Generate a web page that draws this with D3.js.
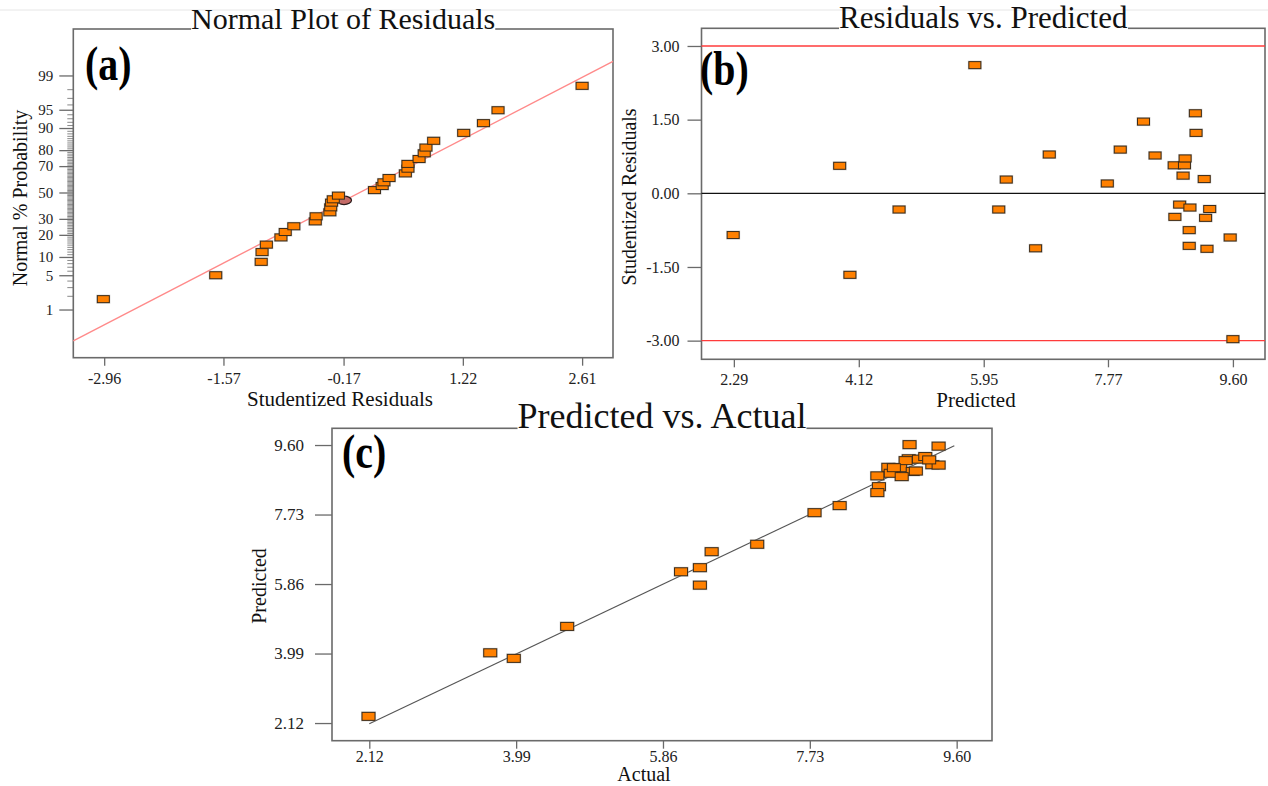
<!DOCTYPE html>
<html>
<head>
<meta charset="utf-8">
<script src="https://cdn.jsdelivr.net/npm/d3@7"></script>
<style>
  html, body { margin: 0; padding: 0; background: #fff; }
  svg { display: block; }
  text { font-family: "Liberation Serif", "Times New Roman", serif; }
</style>
</head>
<body>
<svg id="chart" width="1268" height="786"></svg>
<script>
// ---- panel (a): normal plot of residuals ----
const residualA = [-2.97, -1.66, -1.13, -1.12, -1.07, -0.90, -0.85, -0.75, -0.50, -0.49,
  -0.33, -0.32, -0.31, -0.29, -0.23, 0.19, 0.28, 0.30, 0.36, 0.55,
  0.58, 0.58, 0.71, 0.77, 0.79, 0.88, 1.23, 1.46, 1.63, 2.61];
const probA = [1.7, 5.0, 8.4, 11.8, 15.0, 18.6, 21.6, 25.1, 28.3, 31.8,
  34.7, 38.4, 42.0, 44.6, 47.5, 51.9, 55.1, 58.0, 61.3, 64.8,
  68.2, 71.5, 74.7, 78.2, 81.4, 84.8, 88.2, 91.6, 94.9, 98.3];
const highlightA = { x: -0.165, p: 43.8 };
const fitLineA = { x: [-3.32, 2.97], p: [0.16, 99.54] };
const xTicksA = [-2.96, -1.57, -0.17, 1.22, 2.61];
const yTicksA = [1, 5, 10, 20, 30, 50, 70, 80, 90, 95, 99];

// ---- panel (b): residuals vs predicted ----
const predictedB = [2.28, 3.84, 3.99, 4.71, 6.17, 6.28, 6.71, 6.91, 7.76, 7.95,
  8.29, 8.46, 8.74, 8.89, 8.90, 8.87, 9.05, 9.06, 9.18, 8.82,
  8.97, 8.75, 9.26, 9.20, 8.96, 8.96, 9.22, 9.56, 9.60, 5.82];
const residualB = [-0.85, 0.56, -1.66, -0.33, -0.33, 0.28, -1.12, 0.79, 0.20, 0.89,
  1.46, 0.77, 0.57, 0.57, 0.71, 0.36, 1.63, 1.23, 0.29, -0.23,
  -0.29, -0.48, -0.32, -0.50, -0.75, -1.07, -1.13, -0.90, -2.97, 2.61];
const limitsB = [3, -3];
const xTicksB = [2.29, 4.12, 5.95, 7.77, 9.60];
const yTicksB = [3, 1.5, 0, -1.5, -3];

// ---- panel (c): predicted vs actual ----
const actualC = [2.11, 3.66, 3.96, 4.64, 6.09, 6.33, 6.33, 6.48, 7.06, 7.79,
  8.11, 9.00, 9.37, 8.99, 9.12, 9.20, 9.29, 9.37, 8.73, 8.88,
  9.04, 8.76, 8.90, 8.59, 8.61, 8.59, 9.08, 8.95, 9.25, 8.80];
const predictedC = [2.30, 4.01, 3.86, 4.72, 6.19, 6.30, 5.83, 6.73, 6.93, 7.78,
  7.97, 9.61, 9.57, 9.23, 9.22, 9.29, 9.07, 9.06, 9.00, 8.99,
  8.89, 8.84, 8.75, 8.77, 8.48, 8.32, 8.90, 9.18, 9.20, 8.99];
const lineC = { actual: [2.12, 9.57], predicted: [2.10, 9.58] };
const ticksC = [2.12, 3.99, 5.86, 7.73, 9.60];

// inverse normal cdf (Acklam) for the probability axis
function probit(p) {
  const a = [-39.6968302866538, 220.946098424521, -275.928510446969, 138.357751867269, -30.6647980661472, 2.50662827745924];
  const b = [-54.4760987982241, 161.585836858041, -155.698979859887, 66.8013118877197, -13.2806815528857];
  const c = [-0.00778489400243029, -0.322396458041136, -2.40075827716184, -2.54973253934373, 4.37466414146497, 2.93816398269878];
  const d = [0.00778469570904146, 0.32246712907004, 2.445134137143, 3.75440866190742];
  const pl = 0.02425;
  let q, r;
  if (p < pl) {
    q = Math.sqrt(-2 * Math.log(p));
    return (((((c[0]*q+c[1])*q+c[2])*q+c[3])*q+c[4])*q+c[5]) / ((((d[0]*q+d[1])*q+d[2])*q+d[3])*q+1);
  }
  if (p > 1 - pl) {
    q = Math.sqrt(-2 * Math.log(1 - p));
    return -(((((c[0]*q+c[1])*q+c[2])*q+c[3])*q+c[4])*q+c[5]) / ((((d[0]*q+d[1])*q+d[2])*q+d[3])*q+1);
  }
  q = p - 0.5; r = q * q;
  return (((((a[0]*r+a[1])*r+a[2])*r+a[3])*r+a[4])*r+a[5])*q / (((((b[0]*r+b[1])*r+b[2])*r+b[3])*r+b[4])*r+1);
}

const fmt = d => d.toFixed(2);   // plain hyphen minus like the source
const svg = d3.select('#chart');
const frameColor = '#6a6a6a';
const serif = '"Liberation Serif", "Times New Roman", serif';

// faint separator from the source figure
svg.append('line').attr('x1', 0).attr('x2', 1268).attr('y1', 10).attr('y2', 10)
  .attr('stroke', '#e6e6e6').attr('stroke-width', 1);

function styleAxis(g, fontSize) {
  g.attr('font-family', null).attr('font-size', null);
  g.select('.domain').remove();
  g.selectAll('.tick line').attr('stroke', frameColor).attr('stroke-width', 1.3);
  g.selectAll('.tick text').attr('fill', '#222')
    .attr('font-family', serif).attr('font-size', fontSize)
    .style('font-size', fontSize + 'px').style('font-family', serif);
}

function frame(box, title, titleSize, titleBase) {
  svg.append('rect').attr('x', box.l).attr('y', box.t)
    .attr('width', box.r - box.l).attr('height', box.b - box.t)
    .attr('fill', 'none').attr('stroke', frameColor).attr('stroke-width', 1.6);
  const t = svg.append('text').attr('x', (box.l + box.r) / 2).attr('y', titleBase)
    .attr('text-anchor', 'middle').style('font-size', titleSize + 'px').attr('fill', '#111')
    .text(title);
  const bb = t.node().getBBox();
  svg.insert('rect', () => t.node()).attr('x', bb.x).attr('y', box.t - 3)
    .attr('width', bb.width).attr('height', 6).attr('fill', '#fff');
}

function panelLabel(txt, x, y) {
  svg.append('text').attr('transform', `translate(${x},${y}) scale(0.83,1)`)
    .style('font-size', '48px').style('font-weight', 'bold').attr('fill', '#000').text(txt);
}

function axisTitle(txt, x, y, size, rotate) {
  const t = svg.append('text').attr('text-anchor', 'middle').style('font-size', size + 'px').attr('fill', '#111').text(txt);
  if (rotate) t.attr('transform', `translate(${x},${y}) rotate(-90)`);
  else t.attr('x', x).attr('y', y);
}

function boxes(g, pts, xs, ys, w, h) {
  g.selectAll('rect.halo').data(pts).enter().append('rect').attr('class', 'halo')
    .attr('x', d => xs(d[0]) - w / 2 - 1).attr('y', d => ys(d[1]) - h / 2 - 1)
    .attr('width', w + 2).attr('height', h + 2).attr('fill', '#9a9a9a').attr('opacity', 0.45);
  g.selectAll('rect.pt').data(pts).enter().append('rect').attr('class', 'pt')
    .attr('x', d => xs(d[0]) - w / 2).attr('y', d => ys(d[1]) - h / 2)
    .attr('width', w).attr('height', h)
    .attr('fill', '#ff8000').attr('stroke', '#3a2a18').attr('stroke-width', 1);
}

// ================= panel (a) =================
const boxA = { l: 73.3, r: 613, t: 29, b: 357.7 };
const xA = d3.scaleLinear().domain([-3.32, 2.97]).range([boxA.l, boxA.r]);
const zA = d3.scaleLinear().domain([-3.284, 3.25]).range([boxA.b, boxA.t]);
const yA = p => zA(probit(p / 100));

const minorP = d3.range(1, 100).filter(p => !yTicksA.includes(p));
svg.append('g').attr('transform', `translate(${boxA.l},0)`)
  .call(d3.axisLeft(zA).tickValues(minorP.map(p => probit(p / 100))).tickSize(6).tickFormat(''))
  .call(g => styleAxis(g, 14)).call(g => g.selectAll('.tick line').attr('stroke-width', 0.8));
svg.append('g').attr('transform', `translate(${boxA.l},0)`)
  .call(d3.axisLeft(zA).tickValues(yTicksA.map(p => probit(p / 100))).tickSize(14).tickPadding(6)
    .tickFormat((d, i) => yTicksA[i]))
  .call(g => styleAxis(g, 15));
svg.append('g').attr('transform', `translate(0,${boxA.b})`)
  .call(d3.axisBottom(xA).tickValues(xTicksA).tickSize(8).tickPadding(7).tickFormat(fmt))
  .call(g => styleAxis(g, 16));

frame(boxA, 'Normal Plot of Residuals', 30, 29);

svg.append('line')
  .attr('x1', xA(fitLineA.x[0])).attr('y1', yA(fitLineA.p[0]))
  .attr('x2', xA(fitLineA.x[1])).attr('y2', yA(fitLineA.p[1]))
  .attr('stroke', '#ff8a8a').attr('stroke-width', 1.4);

svg.append('ellipse').attr('cx', xA(highlightA.x)).attr('cy', yA(highlightA.p))
  .attr('rx', 7.5).attr('ry', 4.2).attr('fill', '#c46a66').attr('stroke', '#2a1a1a').attr('stroke-width', 1.2);

boxes(svg.append('g'), residualA.map((r, i) => [r, probA[i]]), xA, yA, 12, 7);

panelLabel('(a)', 85, 80);
axisTitle('Studentized Residuals', 340, 406, 21, false);
axisTitle('Normal % Probability', 27, 198, 20, true);

// ================= panel (b) =================
const boxB = { l: 701.5, r: 1265, t: 28.3, b: 359.3 };
const xB = d3.scaleLinear().domain([1.816, 10.07]).range([boxB.l, boxB.r]);
const yB = d3.scaleLinear().domain([-3.38, 3.36]).range([boxB.b, boxB.t]);

svg.append('g').attr('transform', `translate(${boxB.l},0)`)
  .call(d3.axisLeft(yB).tickValues(yTicksB).tickSize(14).tickPadding(8).tickFormat(fmt))
  .call(g => styleAxis(g, 16));
svg.append('g').attr('transform', `translate(0,${boxB.b})`)
  .call(d3.axisBottom(xB).tickValues(xTicksB).tickSize(8).tickPadding(6).tickFormat(fmt))
  .call(g => styleAxis(g, 16));

frame(boxB, 'Residuals vs. Predicted', 31, 28.3);

svg.append('g').selectAll('line').data(limitsB).enter().append('line')
  .attr('x1', boxB.l).attr('x2', boxB.r).attr('y1', d => yB(d)).attr('y2', d => yB(d))
  .attr('stroke', '#ff3b3b').attr('stroke-width', 1.3);
svg.append('line').attr('x1', boxB.l).attr('x2', boxB.r).attr('y1', yB(0)).attr('y2', yB(0))
  .attr('stroke', '#111').attr('stroke-width', 1.3);

boxes(svg.append('g'), predictedB.map((p, i) => [p, residualB[i]]), xB, yB, 12, 7);

panelLabel('(b)', 700, 85);
axisTitle('Predicted', 976, 407, 21, false);
axisTitle('Studentized Residuals', 636, 197, 20, true);

// ================= panel (c) =================
const boxC = { l: 332, r: 992, t: 428.3, b: 740.7 };
const xC = d3.scaleLinear().domain([1.645, 10.05]).range([boxC.l, boxC.r]);
const yC = d3.scaleLinear().domain([1.645, 10.05]).range([boxC.b, boxC.t]);

svg.append('g').attr('transform', `translate(${boxC.l},0)`)
  .call(d3.axisLeft(yC).tickValues(ticksC).tickSize(17).tickPadding(11).tickFormat(fmt))
  .call(g => styleAxis(g, 17));
svg.append('g').attr('transform', `translate(0,${boxC.b})`)
  .call(d3.axisBottom(xC).tickValues(ticksC).tickSize(8).tickPadding(2).tickFormat(fmt))
  .call(g => styleAxis(g, 16));

frame(boxC, 'Predicted vs. Actual', 36, 428.3);

svg.append('line')
  .attr('x1', xC(lineC.actual[0])).attr('y1', yC(lineC.predicted[0]))
  .attr('x2', xC(lineC.actual[1])).attr('y2', yC(lineC.predicted[1]))
  .attr('stroke', '#555').attr('stroke-width', 1.1);

boxes(svg.append('g'), actualC.map((a, i) => [a, predictedC[i]]), xC, yC, 13, 8);

panelLabel('(c)', 342, 468);
axisTitle('Actual', 644, 781, 20, false);
axisTitle('Predicted', 266, 586, 20, true);
</script>
</body>
</html>
